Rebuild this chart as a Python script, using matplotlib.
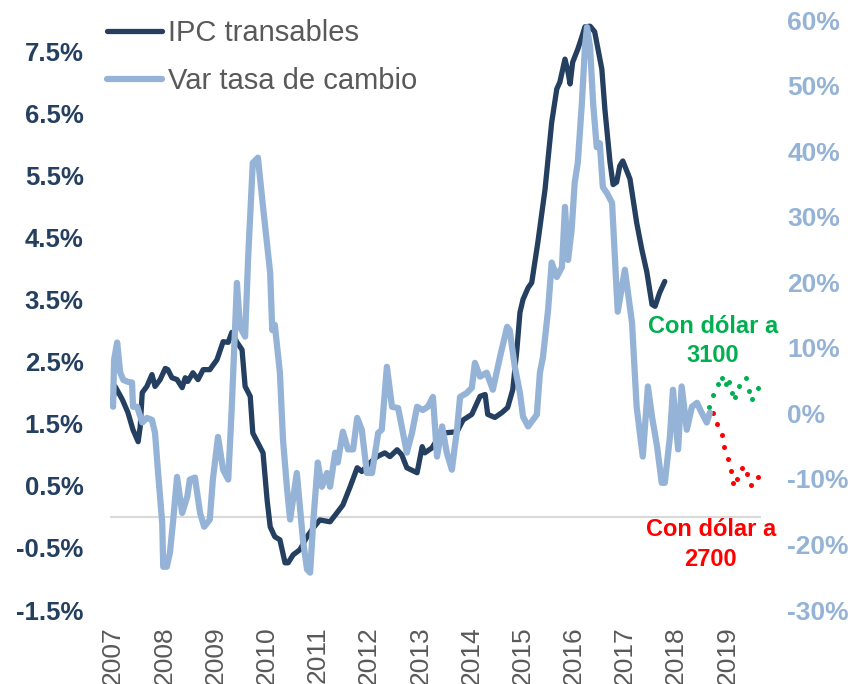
import matplotlib
matplotlib.use("Agg")
import matplotlib.pyplot as plt
from matplotlib.lines import Line2D

plt.rcParams['font.family'] = ['Liberation Sans', 'DejaVu Sans']

# IPC transables (left axis, %)
ipc_year = [2007.00, 2007.04, 2007.18, 2007.29, 2007.39, 2007.49, 2007.53, 2007.57, 2007.66, 2007.76,
            2007.82, 2007.92, 2008.02, 2008.07, 2008.15, 2008.25, 2008.35, 2008.41, 2008.46, 2008.56,
            2008.66, 2008.76, 2008.89, 2009.03, 2009.15, 2009.25, 2009.32, 2009.42, 2009.52, 2009.58,
            2009.68, 2009.73, 2009.83, 2009.93, 2010.01, 2010.07, 2010.16, 2010.26, 2010.36, 2010.42,
            2010.52, 2010.65, 2010.79, 2010.91, 2011.04, 2011.24, 2011.37, 2011.49, 2011.63, 2011.77,
            2011.86, 2012.02, 2012.16, 2012.31, 2012.41, 2012.55, 2012.64, 2012.74, 2012.94, 2013.04,
            2013.09, 2013.23, 2013.33, 2013.45, 2013.72, 2013.84, 2014.01, 2014.17, 2014.27, 2014.32,
            2014.46, 2014.60, 2014.71, 2014.81, 2014.89, 2014.95, 2015.01, 2015.11, 2015.18, 2015.30,
            2015.44, 2015.57, 2015.67, 2015.73, 2015.83, 2015.89, 2015.93, 2015.98, 2016.08, 2016.16,
            2016.22, 2016.32, 2016.41, 2016.55, 2016.61, 2016.71, 2016.77, 2016.84, 2016.90, 2016.96,
            2017.10, 2017.23, 2017.33, 2017.43, 2017.53, 2017.59, 2017.68, 2017.78]
ipc_val = [1.89, 2.10, 1.89, 1.68, 1.40, 1.21, 1.45, 2.00, 2.10, 2.29,
           2.10, 2.21, 2.39, 2.37, 2.24, 2.21, 2.08, 2.24, 2.18, 2.32,
           2.21, 2.37, 2.37, 2.53, 2.82, 2.81, 2.97, 2.81, 2.69, 2.10,
           1.94, 1.35, 1.19, 1.03, 0.27, -0.16, -0.32, -0.37, -0.74, -0.74,
           -0.61, -0.53, -0.32, -0.18, -0.05, -0.08, 0.06, 0.19, 0.48, 0.79,
           0.73, 0.87, 0.97, 1.03, 0.97, 1.08, 1.00, 0.79, 0.71, 1.13,
           1.03, 1.11, 1.24, 1.35, 1.37, 1.56, 1.65, 1.94, 1.97, 1.65,
           1.60, 1.68, 1.76, 2.05, 2.69, 3.29, 3.50, 3.69, 3.77, 4.42,
           5.27, 6.35, 6.89, 7.00, 7.37, 7.16, 6.97, 7.32, 7.53, 7.73,
           7.89, 7.90, 7.81, 7.21, 6.56, 5.71, 5.35, 5.39, 5.65, 5.73,
           5.44, 4.74, 4.31, 3.94, 3.42, 3.39, 3.61, 3.79]

# Var tasa de cambio (right axis, %)
fx_year = [2007.00, 2007.02, 2007.08, 2007.14, 2007.20, 2007.29, 2007.37, 2007.39, 2007.47, 2007.57,
           2007.66, 2007.76, 2007.82, 2007.88, 2007.96, 2007.98, 2008.05, 2008.11, 2008.17, 2008.25,
           2008.35, 2008.45, 2008.50, 2008.60, 2008.70, 2008.78, 2008.89, 2008.95, 2009.05, 2009.15,
           2009.25, 2009.32, 2009.42, 2009.48, 2009.58, 2009.64, 2009.73, 2009.83, 2009.93, 2010.07,
           2010.11, 2010.16, 2010.26, 2010.32, 2010.40, 2010.46, 2010.59, 2010.65, 2010.71, 2010.79,
           2010.85, 2010.91, 2011.00, 2011.08, 2011.18, 2011.24, 2011.34, 2011.39, 2011.49, 2011.59,
           2011.69, 2011.77, 2011.86, 2011.96, 2012.06, 2012.18, 2012.25, 2012.35, 2012.45, 2012.57,
           2012.74, 2012.84, 2012.94, 2013.05, 2013.15, 2013.25, 2013.33, 2013.43, 2013.52, 2013.62,
           2013.72, 2013.78, 2013.91, 2014.01, 2014.07, 2014.17, 2014.30, 2014.42, 2014.56, 2014.70,
           2014.75, 2014.85, 2014.95, 2015.01, 2015.11, 2015.28, 2015.34, 2015.40, 2015.50, 2015.57,
           2015.67, 2015.77, 2015.83, 2015.89, 2015.96, 2016.02, 2016.08, 2016.16, 2016.22, 2016.26,
           2016.32, 2016.38, 2016.45, 2016.51, 2016.57, 2016.65, 2016.75, 2016.86, 2017.00, 2017.14,
           2017.23, 2017.35, 2017.45, 2017.53, 2017.63, 2017.72, 2017.78, 2017.88, 2017.94, 2018.04,
           2018.11, 2018.21, 2018.31, 2018.41, 2018.50, 2018.60, 2018.66]
fx_val = [1.0, 8.2, 10.8, 6.2, 5.1, 4.8, 4.7, 1.0, 1.0, -1.4,
          -0.7, -1.0, -3.0, -9.1, -16.7, -23.4, -23.4, -21.3, -16.7, -9.7,
          -15.2, -12.7, -10.1, -9.8, -15.2, -17.3, -16.2, -10.1, -3.6, -8.6,
          -10.1, 1.0, 19.9, 13.2, 11.7, 23.9, 38.2, 39.0, 31.5, 21.4,
          12.7, 13.5, 6.2, -4.0, -11.6, -16.2, -9.1, -14.2, -19.3, -23.8,
          -24.3, -16.7, -7.5, -11.2, -9.1, -11.2, -6.0, -7.5, -2.8, -5.5,
          -5.5, -0.7, -2.5, -9.1, -9.1, -3.0, -2.5, 7.1, 1.0, 0.8,
          -6.0, -3.0, 1.0, 0.5, 1.0, 2.5, -6.6, -2.0, -6.0, -8.6,
          -2.5, 2.5, 3.1, 3.9, 7.7, 5.6, 6.2, 3.6, 8.6, 13.2,
          12.7, 7.1, 3.1, -0.5, -2.0, -0.2, 6.2, 8.6, 15.8, 23.0,
          20.8, 22.3, 31.5, 23.4, 28.0, 35.2, 38.2, 47.3, 55.9, 58.9,
          55.9, 47.3, 40.6, 41.2, 34.5, 33.6, 32.1, 15.5, 21.9, 13.8,
          1.0, -6.6, 4.1, -0.5, -5.1, -10.6, -10.6, -3.6, 3.6, -5.5,
          4.1, -2.5, 1.0, 1.6, 0.1, -1.4, 0.1]

# projections (right axis)
up_year = [2018.64, 2018.72, 2018.82, 2018.89, 2018.97, 2019.03, 2019.09, 2019.15, 2019.23, 2019.36,
           2019.42, 2019.48, 2019.60]
up_val = [1.0, 2.8, 4.5, 5.4, 4.5, 4.8, 3.1, 2.5, 4.1, 5.4, 3.4, 2.2, 3.8]
down_year = [2018.72, 2018.80, 2018.89, 2018.93, 2019.01, 2019.07, 2019.11, 2019.19, 2019.29, 2019.38,
             2019.46, 2019.60]
down_val = [0.1, -1.6, -3.3, -5.1, -6.9, -8.8, -10.6, -10.0, -8.4, -9.2, -11.0, -9.7]

years = list(range(2007, 2020))
left_ticks = [-1.5, -0.5, 0.5, 1.5, 2.5, 3.5, 4.5, 5.5, 6.5, 7.5]
right_ticks = list(range(-30, 61, 10))

navy = '#243F60'
light = '#95B3D7'
grey = '#595959'

W, H = 857, 684
fig = plt.figure(figsize=(W / 100, H / 100), dpi=100)
ax = fig.add_axes([110 / W, 1 - 610 / H, (761 - 110) / W, 590 / H])
ax2 = ax.twinx()

ax.axhline(0, color='#D9D9D9', lw=1.5, zorder=1)
ax.plot(ipc_year, ipc_val, color=navy, lw=3.8, solid_joinstyle='round', solid_capstyle='round', zorder=3)
ax2.plot(fx_year, fx_val, color=light, lw=4.5, solid_joinstyle='round', solid_capstyle='round', zorder=3)
ax2.plot(up_year, up_val, 'o', color='#00B050', ms=3.6, mec='none')
ax2.plot(down_year, down_val, 'o', color='#FF0000', ms=3.6, mec='none')

ax.set_xlim(2006.94, 2019.66)
ax.set_ylim(-1.5, 8.0)
ax2.set_ylim(-30, 60)

ax.set_xticks(years)
ax.set_xticklabels([str(y) for y in years], rotation=90, fontsize=19, color=grey)
ax.set_yticks(left_ticks)
ax.set_yticklabels(['%.1f%%' % v for v in left_ticks], fontsize=18.5, fontweight='bold', color=navy)
ax2.set_yticks(right_ticks)
ax2.set_yticklabels(['%d%%' % v for v in right_ticks], fontsize=19, fontweight='bold', color=light)
ax.tick_params(axis='x', length=0, pad=12)
ax.tick_params(axis='y', length=0, pad=19)
ax2.tick_params(axis='y', length=0, pad=19)

for a in (ax, ax2):
    for s in a.spines.values():
        s.set_visible(False)

ax2.text(2018.72, 11.0, 'Con dólar a\n3100', color='#00B050', fontsize=17, fontweight='bold',
         ha='center', va='center', linespacing=1.35)
ax2.text(2018.68, -20.0, 'Con dólar a\n2700', color='#FF0000', fontsize=17, fontweight='bold',
         ha='center', va='center', linespacing=1.35)

handles = [Line2D([], [], color=navy, lw=3.8, solid_capstyle='round'),
           Line2D([], [], color=light, lw=4.5, solid_capstyle='round')]
leg = ax2.legend(handles, ['IPC transables', 'Var tasa de cambio'], loc='upper left',
                 bbox_to_anchor=(107 / W, 1 - 19 / H), bbox_transform=fig.transFigure,
                 frameon=False, fontsize=21, handlelength=1.9, handletextpad=0.2,
                 borderpad=0, borderaxespad=0, labelspacing=0.68)
for t in leg.get_texts():
    t.set_color(grey)

fig.savefig('out.png', dpi=100)
